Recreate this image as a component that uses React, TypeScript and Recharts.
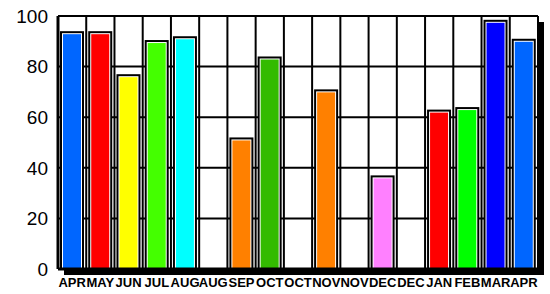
import * as React from "react";
import { Bar, BarChart, CartesianGrid, Cell, XAxis, YAxis } from "recharts";

const MONTHS = ["APR", "MAY", "JUN", "JUL", "AUG", "AUG", "SEP", "OCT", "OCT", "NOV", "NOV", "DEC", "DEC", "JAN", "FEB", "MAR", "APR"];
const VALUES = [94, 94, 77, 90.5, 92, null, 52, 84, null, 71, null, 37, null, 63, 64, 98.5, 91];
const COLORS = ["#0066FF", "#FF0000", "#FFFF00", "#44FF00", "#00FFFF", "#FFFFFF", "#FF8000", "#33BB00", "#FFFFFF", "#FF8000", "#FFFFFF", "#FF80FF", "#FFFFFF", "#FF0000", "#00FF00", "#0000FF", "#0066FF"];
const Y_TICKS = [0, 20, 40, 60, 80, 100];

const W = 550;
const H = 294;
const MARGIN = { top: 16, right: 12, left: 0, bottom: 0 };
const Y_AXIS_W = 58;
const X_AXIS_H = 25;

const data = MONTHS.map((m, i) => ({ name: m, value: VALUES[i] }));

// black frame, white rim, coloured fill
function FramedBar(props: any) {
  const { x, y, width, height, fill } = props;
  if (!height || height <= 0) return null;
  return (
    <g>
      <rect x={x} y={y} width={width} height={height} fill="#000" />
      <rect x={x + 2} y={y + 2} width={width - 4} height={height - 2} fill="#fff" />
      <rect x={x + 3} y={y + 3} width={width - 6} height={height - 3} fill={fill} />
    </g>
  );
}

function MonthTick(props: any) {
  const { x, y, payload } = props;
  return (
    <text
      x={x}
      y={y}
      dy={14}
      textAnchor="middle"
      fill="#000"
      fontSize={13}
      fontWeight="bold"
      fontFamily="Liberation Sans, Arial, sans-serif"
    >
      {payload.value}
    </text>
  );
}

export default function App() {
  const plotLeft = MARGIN.left + Y_AXIS_W;
  const plotTop = MARGIN.top;
  const plotW = W - plotLeft - MARGIN.right;
  const plotH = H - MARGIN.top - MARGIN.bottom - X_AXIS_H;

  return (
    <div style={{ position: "absolute", left: 0, top: 0, width: W, height: H, background: "#fff" }}>
      {/* drop shadow behind the plot area */}
      <div
        style={{
          position: "absolute",
          left: plotLeft + 6,
          top: plotTop + 6,
          width: plotW,
          height: plotH,
          background: "#000",
        }}
      />
      <div style={{ position: "absolute", left: 0, top: 0 }}>
        <BarChart width={W} height={H} data={data} margin={MARGIN} barCategoryGap={2}>
          <CartesianGrid
            stroke="#000"
            strokeWidth={2}
            fill="#fff"
            fillOpacity={1}
            verticalCoordinatesGenerator={({ offset }: any) =>
              MONTHS.map((_, i) => offset.left + (i * offset.width) / MONTHS.length).concat(offset.left + offset.width)
            }
          />
          <XAxis
            dataKey="name"
            height={X_AXIS_H}
            interval={0}
            tickLine={false}
            tickSize={0}
            tickMargin={4}
            axisLine={{ stroke: "#000", strokeWidth: 3 }}
            tick={<MonthTick />}
          />
          <YAxis
            width={Y_AXIS_W}
            domain={[0, 100]}
            ticks={Y_TICKS}
            tickLine={false}
            tickSize={0}
            tickMargin={10}
            axisLine={{ stroke: "#000", strokeWidth: 3 }}
            tick={{ fill: "#000", fontSize: 19, fontFamily: "Liberation Sans, Arial, sans-serif" }}
          />
          <Bar dataKey="value" isAnimationActive={false} shape={<FramedBar />}>
            {data.map((_, i) => (
              <Cell key={i} fill={COLORS[i]} />
            ))}
          </Bar>
        </BarChart>
      </div>
    </div>
  );
}
